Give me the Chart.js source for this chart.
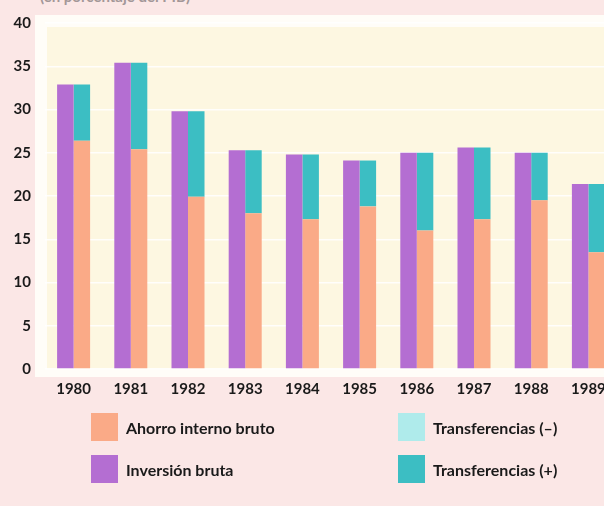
<!DOCTYPE html>
<html>
<head>
<meta charset="utf-8">
<script src="https://cdn.jsdelivr.net/npm/chart.js@4"></script>
<style>
    html, body { margin: 0; padding: 0; width: 604px; height: 506px; overflow: hidden; background: #fbe7e6; }
    #wrap { position: absolute; left: 0; top: 0; width: 617px; height: 420px; }
    #title { position: absolute; left: 40px; top: -13px; font: bold 15px Lato, sans-serif; color: #a39798; }
    #legend { position: absolute; left: 0; top: 0; width: 604px; height: 506px; font: bold 16px Lato, sans-serif; color: #1a1a1a; }
    .item { position: absolute; display: flex; align-items: center; }
    .box { width: 27px; height: 28px; margin-right: 8px; }
</style>
</head>
<body>
<div id="title">(en porcentaje del PIB)</div>
<div id="wrap"><canvas id="chart" width="617" height="420"></canvas></div>
<div id="legend"></div>
<script>
// Years on the x axis
const years = ['1980', '1981', '1982', '1983', '1984', '1985', '1986', '1987', '1988', '1989'];

// Values (percent of GDP)
const inversionBruta = [32.9, 35.4, 29.8, 25.3, 24.8, 24.1, 25.0, 25.6, 25.0, 21.4];
const ahorroInterno = [26.4, 25.4, 19.9, 18.0, 17.3, 18.8, 16.0, 17.3, 19.5, 13.5];
const transferenciasPos = [6.5, 10.0, 9.9, 7.3, 7.5, 5.3, 9.0, 8.3, 5.5, 7.9];
const transferenciasNeg = [0, 0, 0, 0, 0, 0, 0, 0, 0, 0];

const yTicks = [0, 5, 10, 15, 20, 25, 30, 35, 40];

const colors = {
    inversion: '#b46ed2',
    ahorro: '#faaa87',
    transPos: '#3cbec3',
    transNeg: '#afebeb'
};

// Paper-like plot background: white frame with a cream panel
const panelPlugin = {
    id: 'panel',
    beforeDraw(chart) {
        const ctx = chart.ctx;
        const a = chart.chartArea;
        ctx.save();
        ctx.fillStyle = '#fffdf8';
        ctx.fillRect(a.left - 10, a.top - 8, a.right - a.left + 10, a.bottom - a.top + 16);
        ctx.fillStyle = '#fdf7e1';
        ctx.fillRect(a.left + 2, a.top + 4, a.right - a.left, a.bottom - a.top - 4);
        ctx.restore();
    }
};

const tickFont = { family: 'Lato', size: 15, weight: 'bold' };

const chart = new Chart(document.getElementById('chart'), {
    type: 'bar',
    data: {
        labels: years,
        datasets: [
            { label: 'Inversión bruta', data: inversionBruta, backgroundColor: colors.inversion, stack: 'inv' },
            { label: 'Ahorro interno bruto', data: ahorroInterno, backgroundColor: colors.ahorro, stack: 'fin' },
            { label: 'Transferencias (+)', data: transferenciasPos, backgroundColor: colors.transPos, stack: 'fin' },
            { label: 'Transferencias (–)', data: transferenciasNeg, backgroundColor: colors.transNeg, stack: 'fin' }
        ]
    },
    options: {
        responsive: false,
        animation: false,
        layout: { padding: { top: 22, right: 0, left: 0, bottom: 0 } },
        datasets: {
            bar: { categoryPercentage: 0.577, barPercentage: 1.0, borderWidth: 0 }
        },
        scales: {
            x: {
                stacked: true,
                grid: { display: false },
                border: { display: false },
                ticks: { font: tickFont, color: '#1a1a1a', padding: 3 },
                afterFit(scale) { scale.height = 51; }
            },
            y: {
                stacked: true,
                min: 0,
                max: 40,
                afterBuildTicks(scale) { scale.ticks = yTicks.map(v => ({ value: v })); },
                grid: { color: 'rgba(255,255,255,0.85)', lineWidth: 1.5, drawTicks: false },
                border: { display: false },
                ticks: { font: tickFont, color: '#1a1a1a', padding: 14 },
                afterFit(scale) { scale.width = 45; }
            }
        },
        plugins: {
            legend: { display: false },
            tooltip: { enabled: false }
        }
    },
    plugins: [panelPlugin]
});

// Two-column legend built from the chart's datasets
const legendSlots = [
    { label: 'Ahorro interno bruto', left: 91, top: 413 },
    { label: 'Transferencias (–)', left: 398, top: 413 },
    { label: 'Inversión bruta', left: 91, top: 455 },
    { label: 'Transferencias (+)', left: 398, top: 455 }
];
const legendEl = document.getElementById('legend');
legendSlots.forEach(slot => {
    const ds = chart.data.datasets.find(d => d.label === slot.label);
    const item = document.createElement('div');
    item.className = 'item';
    item.style.left = slot.left + 'px';
    item.style.top = slot.top + 'px';
    item.innerHTML = '<div class="box" style="background:' + ds.backgroundColor + '"></div><span>' + ds.label + '</span>';
    legendEl.appendChild(item);
});
</script>
</body>
</html>
